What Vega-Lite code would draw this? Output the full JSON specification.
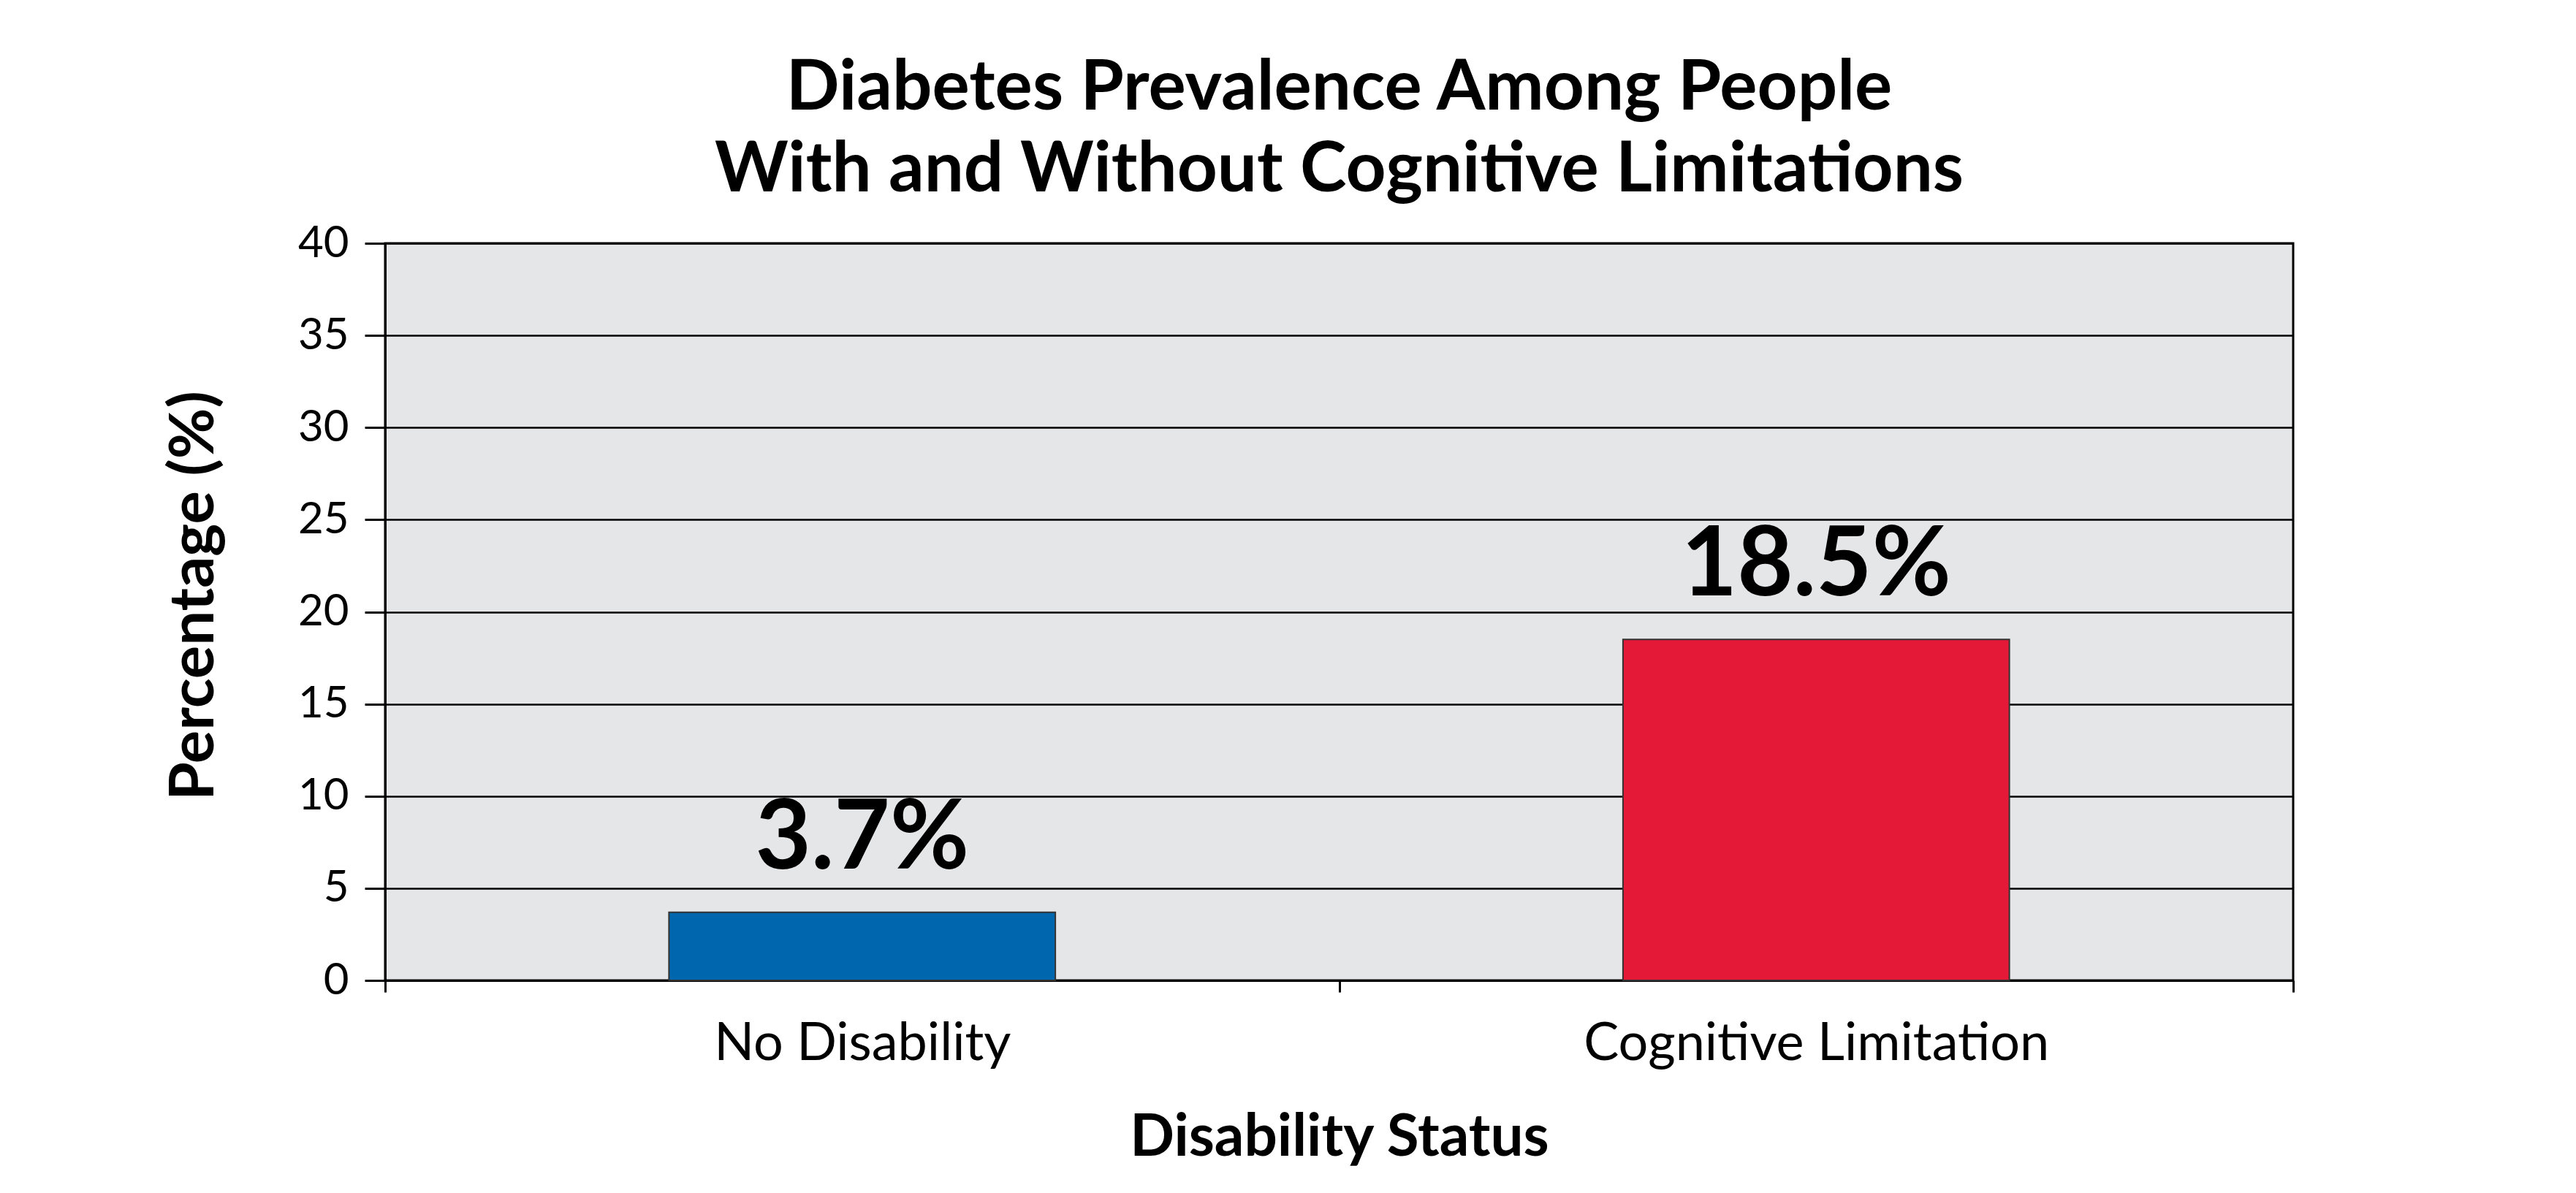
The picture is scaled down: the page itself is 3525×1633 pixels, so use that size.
{
  "$schema": "https://vega.github.io/schema/vega-lite/v6.json",
  "autosize": {"type": "none"},
  "width": 2611,
  "height": 1009,
  "padding": {"left": 527, "top": 333, "right": 387, "bottom": 291},
  "background": "white",
  "title": {
    "text": ["Diabetes Prevalence Among People", "With and Without Cognitive Limitations"],
    "font": "Lato",
    "fontSize": 96,
    "fontWeight": "bold",
    "color": "#000000",
    "anchor": "middle",
    "lineHeight": 112,
    "offset": 21
  },
  "data": {
    "values": [
      {"status": "No Disability", "pct": 3.7, "label": "3.7%"},
      {"status": "Cognitive Limitation", "pct": 18.5, "label": "18.5%"}
    ]
  },
  "encoding": {
    "x": {
      "field": "status",
      "type": "nominal",
      "sort": ["No Disability", "Cognitive Limitation"],
      "scale": {"paddingInner": 0, "paddingOuter": 0},
      "axis": {
        "title": "Disability Status",
        "titleFont": "Lato",
        "titleFontSize": 80,
        "titleFontWeight": "bold",
        "titleColor": "#000000",
        "titlePadding": 54,
        "labelFont": "Lato",
        "labelFontSize": 72,
        "labelColor": "#000000",
        "labelAngle": 0,
        "labelLimit": 0,
        "labelPadding": 35,
        "tickBand": "extent",
        "tickSize": 16,
        "tickWidth": 3,
        "tickColor": "#000000",
        "domainColor": "#000000",
        "domainWidth": 3,
        "grid": false
      }
    },
    "y": {
      "field": "pct",
      "type": "quantitative",
      "scale": {"domain": [0, 40], "nice": false},
      "axis": {
        "title": "Percentage (%)",
        "titleFont": "Lato",
        "titleFontSize": 85,
        "titleFontWeight": "bold",
        "titleColor": "#000000",
        "titlePadding": 98,
        "titleY": 482,
        "values": [0, 5, 10, 15, 20, 25, 30, 35, 40],
        "labelFont": "Lato",
        "labelFontSize": 60,
        "labelColor": "#000000",
        "labelPadding": 22,
        "tickSize": 28,
        "tickWidth": 3,
        "tickColor": "#000000",
        "domainColor": "#000000",
        "domainWidth": 3,
        "grid": true,
        "gridColor": "#000000",
        "gridWidth": 2.5,
        "gridOpacity": 1
      }
    }
  },
  "layer": [
    {
      "mark": {"type": "bar", "stroke": "#333333", "strokeWidth": 2, "width": {"band": 0.405}},
      "encoding": {
        "color": {
          "field": "status",
          "type": "nominal",
          "scale": {"domain": ["No Disability", "Cognitive Limitation"], "range": ["#0066ae", "#e31937"]},
          "legend": null
        }
      }
    },
    {
      "mark": {"type": "text", "font": "Lato", "fontSize": 132, "fontWeight": "bold", "color": "#000000", "baseline": "alphabetic", "dy": -60},
      "encoding": {"text": {"field": "label"}}
    }
  ],
  "config": {
    "view": {"fill": "#e5e6e8", "stroke": "#000000", "strokeWidth": 3}
  }
}
